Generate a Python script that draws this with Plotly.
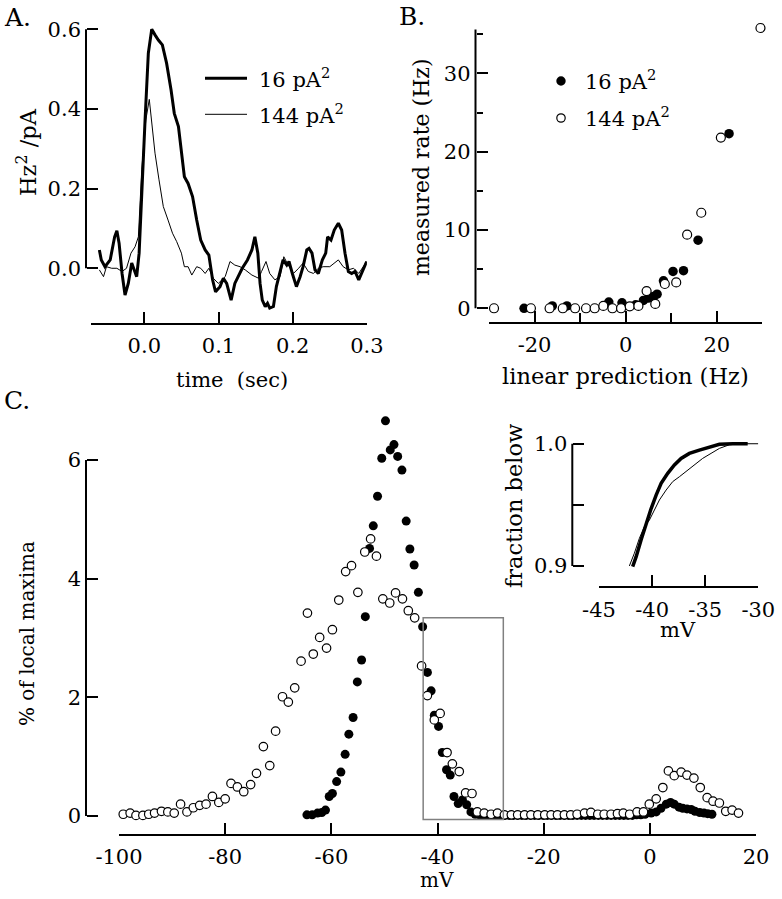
import plotly.graph_objects as go

W, H = 782, 899
FONT = "DejaVu Serif"
FS = 21

def fx(px):
    return px / W

def fy(py):
    return 1 - py / H

# ---------------- Panel A data (time in sec, Hz^2/pA) ----------------
a_t_16 = [-0.0606, -0.058, -0.053, -0.046, -0.040, -0.037, -0.034, -0.030, -0.026, -0.0216,
          -0.017, -0.0135, -0.0103, -0.007, -0.0035, 0.001, 0.0054, 0.010, 0.0144, 0.0189,
          0.0243, 0.030, 0.036, 0.0404, 0.046, 0.050, 0.054, 0.059, 0.065, 0.0706,
          0.076, 0.082, 0.087, 0.092, 0.096, 0.102, 0.1065, 0.111, 0.117, 0.122,
          0.128, 0.132, 0.139, 0.145, 0.149, 0.153, 0.156, 0.159, 0.163, 0.166,
          0.169, 0.174, 0.178, 0.183, 0.187, 0.192, 0.195, 0.1995, 0.205, 0.210,
          0.214, 0.219, 0.222, 0.226, 0.230, 0.2345, 0.240, 0.2445, 0.247, 0.2516,
          0.256, 0.2615, 0.266, 0.2705, 0.275, 0.2795, 0.284, 0.289, 0.293, 0.2975, 0.2997]
a_v_16 = [0.046, 0.021, 0.004, 0.021, 0.079, 0.094, 0.063, -0.013, -0.067, -0.038,
          0.013, -0.004, -0.021, 0.038, 0.205, 0.372, 0.540, 0.600, 0.586, 0.573,
          0.561, 0.515, 0.448, 0.389, 0.356, 0.289, 0.230, 0.213, 0.180, 0.121,
          0.071, 0.046, 0.033, -0.029, -0.059, -0.046, -0.025, -0.038, -0.080, -0.038,
          -0.013, 0.000, 0.021, 0.046, 0.079, 0.038, -0.038, -0.080, -0.096, -0.088,
          -0.100, -0.096, -0.046, -0.004, 0.021, 0.008, 0.017, -0.013, -0.046, -0.021,
          0.004, 0.046, 0.050, 0.038, -0.004, -0.013, 0.021, 0.038, 0.079, 0.071,
          0.096, 0.113, 0.096, 0.038, -0.008, -0.013, -0.008, -0.029, -0.013, 0.004, 0.017]
a_t_144 = [-0.0606, -0.055, -0.051, -0.044, -0.037, -0.030, -0.024, -0.018, -0.0125, -0.008,
           -0.0035, 0.002, 0.0067, 0.010, 0.0144, 0.0198, 0.0256, 0.032, 0.038, 0.0436,
           0.050, 0.054, 0.059, 0.064, 0.0706, 0.076, 0.082, 0.087, 0.093, 0.0997,
           0.109, 0.1155, 0.122, 0.129, 0.136, 0.145, 0.154, 0.158, 0.164, 0.169,
           0.176, 0.183, 0.188, 0.194, 0.201, 0.208, 0.214, 0.221, 0.228, 0.2345,
           0.241, 0.250, 0.257, 0.2615, 0.268, 0.275, 0.282, 0.289, 0.295, 0.2997]
a_v_144 = [-0.004, -0.021, 0.004, 0.000, 0.000, -0.008, 0.000, 0.038, 0.054, 0.079,
           0.247, 0.372, 0.424, 0.372, 0.289, 0.222, 0.155, 0.121, 0.088, 0.067,
           0.038, 0.004, 0.004, -0.017, 0.004, 0.000, -0.013, 0.000, -0.025, -0.038,
           -0.021, 0.017, 0.008, 0.004, -0.004, -0.017, -0.025, -0.008, 0.017, -0.013,
           -0.029, -0.021, 0.029, 0.008, -0.013, 0.000, 0.013, -0.008, -0.013, 0.000,
           0.004, 0.004, 0.013, 0.021, 0.004, -0.004, 0.000, -0.013, 0.004, 0.017]
a_xticks = [0.0, 0.1, 0.2, 0.3]
a_xticktext = ["0.0", "0.1", "0.2", "0.3"]
a_yticks = [0.0, 0.2, 0.4, 0.6]
a_yticktext = ["0.0", "0.2", "0.4", "0.6"]

# ---------------- Panel B data (Hz) ----------------
b_x_16 = [-22.3, -16.1, -12.9, -3.7, -0.8, 2.2, 3.9, 5.0, 6.1, 6.9, 8.3, 10.4, 12.7, 15.9, 22.7]
b_y_16 = [0.0, 0.3, 0.3, 0.8, 0.7, 0.45, 1.0, 1.3, 1.5, 1.8, 3.5, 4.7, 4.8, 8.7, 22.3]
b_x_144 = [-28.9, -20.8, -16.7, -13.8, -11.1, -8.7, -6.8, -4.9, -2.9, -1.0,
           0.9, 2.8, 4.6, 6.5, 8.6, 11.1, 13.5, 16.6, 20.9, 29.6]
b_y_144 = [0.0, 0.0, 0.0, 0.0, 0.0, 0.0, 0.0, 0.3, 0.0, 0.0,
           0.25, 0.3, 2.2, 0.55, 3.1, 3.3, 9.4, 12.2, 21.8, 35.8]
b_xticks = [-20, 0, 20]
b_xticktext = ["-20", "0", "20"]
b_xminor = [-30, -10, 10, 30]
b_yticks = [0, 10, 20, 30]
b_yticktext = ["0", "10", "20", "30"]
b_yminor = [5, 15, 25, 35]

# ---------------- Panel C data (mV, % of local maxima) ----------------
c_x_16 = [-64.6, -63.6, -62.6, -61.8, -61.1, -60.4, -59.8, -59.0, -58.2, -57.4,
          -56.7, -55.9, -55.1, -54.3, -53.6, -52.8, -52.1, -51.3, -50.5, -49.8,
          -48.9, -48.2, -47.5, -46.7, -45.9, -45.2, -44.4, -43.6, -42.8, -41.9,
          -41.2, -40.6, -39.8, -39.1, -38.3, -37.6, -36.9, -36.1, -35.3, -34.5,
          -33.7, -32.9, -32.1, -31.3, -30.5, -29.7, -28.9, -28.1, -27.3, -26.5,
          -25.7, -24.9, -24.1, -23.3, -22.5, -21.7, -20.9, -20.1, -19.3, -18.5,
          -17.7, -16.9, -16.1, -15.3, -14.5, -13.7, -12.9, -12.1, -11.3, -10.5,
          -9.7, -8.9, -8.1, -7.3, -6.5, -5.7, -4.9, -4.1, -3.3, -2.5,
          -1.7, -0.9, 0.25, 1.2, 2.1, 3.1, 3.9, 4.6, 5.5, 6.2,
          7.0, 7.8, 8.5, 9.4, 10.2, 10.9, 11.7]
c_y_16 = [0.02, 0.02, 0.05, 0.06, 0.10, 0.33, 0.38, 0.58, 0.74, 1.04,
          1.38, 1.66, 2.26, 2.63, 3.36, 4.51, 4.89, 5.39, 6.03, 6.66,
          6.17, 6.26, 6.06, 5.83, 4.97, 4.50, 4.23, 3.77, 3.19, 2.42,
          2.11, 1.70, 1.51, 1.07, 0.78, 0.69, 0.33, 0.21, 0.27, 0.19,
          0.07, 0.03, 0.02, 0.01, 0.01, 0.01, 0.01, 0.01, 0.01, 0.01,
          0.01, 0.01, 0.01, 0.01, 0.01, 0.01, 0.01, 0.01, 0.01, 0.01,
          0.01, 0.01, 0.01, 0.01, 0.01, 0.01, 0.01, 0.01, 0.01, 0.01,
          0.01, 0.01, 0.01, 0.01, 0.01, 0.01, 0.01, 0.01, 0.01, 0.02,
          0.02, 0.03, 0.05, 0.07, 0.13, 0.20, 0.23, 0.20, 0.15, 0.13,
          0.12, 0.11, 0.08, 0.06, 0.05, 0.04, 0.03]
c_x_144 = [-99.2, -97.9, -96.8, -95.5, -94.4, -93.3, -92.0, -90.8, -89.6, -88.4,
           -87.2, -86.0, -84.8, -83.6, -82.4, -81.2, -80.0, -78.9, -77.7, -76.5,
           -75.2, -74.1, -72.8, -71.6, -70.5, -69.2, -68.1, -66.9, -65.7, -64.5,
           -63.4, -62.2, -60.9, -59.8, -58.6, -57.3, -56.2, -55.0, -53.7, -52.6,
           -51.5, -50.3, -49.0, -47.9, -46.6, -45.5, -44.3, -43.0, -41.9, -40.6,
           -39.5, -38.2, -37.2, -35.9, -34.7, -33.5, -32.5, -31.2, -29.9, -28.7,
           -27.4, -26.1, -24.9, -23.6, -22.4, -21.1, -19.8, -18.6, -17.4, -16.1,
           -14.9, -13.7, -12.3, -11.1, -9.8, -8.6, -7.3, -6.1, -5.0, -3.8,
           -2.4, -1.2, -0.1, 1.2, 2.45, 3.5, 4.6, 5.9, 7.0, 8.3,
           9.5, 10.8, 11.9, 13.1, 14.3, 15.5, 16.7]
c_y_144 = [0.03, 0.05, 0.01, 0.01, 0.03, 0.05, 0.08, 0.07, 0.05, 0.20,
           0.07, 0.14, 0.18, 0.20, 0.33, 0.23, 0.29, 0.55, 0.49, 0.41,
           0.53, 0.72, 1.17, 0.85, 1.43, 2.01, 1.92, 2.16, 2.61, 3.42,
           2.73, 3.01, 2.83, 3.14, 3.64, 4.12, 4.22, 3.77, 4.45, 4.67,
           4.38, 3.66, 3.59, 3.76, 3.66, 3.46, 3.34, 2.53, 2.03, 1.62,
           1.73, 1.07, 0.88, 0.75, 0.39, 0.38, 0.07, 0.05, 0.03, 0.05,
           0.02, 0.02, 0.02, 0.02, 0.02, 0.02, 0.02, 0.02, 0.02, 0.02,
           0.02, 0.03, 0.05, 0.06, 0.03, 0.03, 0.03, 0.04, 0.05, 0.03,
           0.07, 0.07, 0.20, 0.29, 0.48, 0.76, 0.68, 0.74, 0.69, 0.64,
           0.48, 0.31, 0.25, 0.22, 0.08, 0.10, 0.05]
c_xticks = [-100, -80, -60, -40, -20, 0, 20]
c_xticktext = ["-100", "-80", "-60", "-40", "-20", "0", "20"]
c_yticks = [0, 2, 4, 6]
c_yticktext = ["0", "2", "4", "6"]
c_box_x = [-42.7, -27.6]
c_box_y = [-0.06, 3.34]

# ---------------- Inset data (mV, fraction below) ----------------
i_x_16 = [-41.83, -41.5, -41.04, -40.56, -40.09, -39.62, -39.15, -38.53, -37.9, -37.27,
          -36.49, -35.55, -34.6, -33.66, -32.4, -31.0]
i_y_16 = [0.8995, 0.9076, 0.9213, 0.935, 0.947, 0.958, 0.9676, 0.9758, 0.9826, 0.988,
          0.9921, 0.9948, 0.9975, 0.9995, 1.0, 1.0]
i_x_144 = [-42.14, -41.67, -41.2, -40.73, -40.25, -39.78, -39.31, -38.68, -38.06, -37.43,
           -36.8, -36.02, -35.24, -34.45, -33.66, -32.72, -31.47, -30.0]
i_y_144 = [0.900, 0.9104, 0.9226, 0.9321, 0.9376, 0.9458, 0.954, 0.9621, 0.969, 0.973,
           0.9771, 0.9826, 0.988, 0.9921, 0.9962, 0.9992, 1.0, 1.0]
i_xticks = [-45, -40, -35, -30]
i_xticktext = ["-45", "-40", "-35", "-30"]
i_yticks = [0.9, 1.0]
i_yticktext = ["0.9", "1.0"]
i_yminor = [0.95]

series_names = ["16 pA<sup>2</sup>", "144 pA<sup>2</sup>"]

# layout constant: top end of panel B's y-axis line
B_YLINE_TOP = 35.6

fig = go.Figure()

# Panel A
fig.add_trace(go.Scatter(x=a_t_16, y=a_v_16, mode="lines", name=series_names[0],
                         line=dict(color="black", width=3), xaxis="x", yaxis="y"))
fig.add_trace(go.Scatter(x=a_t_144, y=a_v_144, mode="lines", name=series_names[1],
                         line=dict(color="black", width=1), xaxis="x", yaxis="y"))
# Panel B
fig.add_trace(go.Scatter(x=b_x_16, y=b_y_16, mode="markers", name=series_names[0], cliponaxis=False,
                         marker=dict(color="black", size=9.5, line=dict(width=0)), xaxis="x2", yaxis="y2"))
fig.add_trace(go.Scatter(x=b_x_144, y=b_y_144, mode="markers", name=series_names[1], cliponaxis=False,
                         marker=dict(color="white", size=9, line=dict(color="black", width=1.2)),
                         xaxis="x2", yaxis="y2"))
# Panel C
fig.add_trace(go.Scatter(x=c_x_16, y=c_y_16, mode="markers", name=series_names[0], cliponaxis=False,
                         marker=dict(color="black", size=9, line=dict(width=0)), xaxis="x3", yaxis="y3"))
fig.add_trace(go.Scatter(x=c_x_144, y=c_y_144, mode="markers", name=series_names[1], cliponaxis=False,
                         marker=dict(color="white", size=8.5, line=dict(color="black", width=1.2)),
                         xaxis="x3", yaxis="y3"))
# Inset
fig.add_trace(go.Scatter(x=i_x_16, y=i_y_16, mode="lines", name=series_names[0],
                         line=dict(color="black", width=3.5), xaxis="x4", yaxis="y4"))
fig.add_trace(go.Scatter(x=i_x_144, y=i_y_144, mode="lines", name=series_names[1],
                         line=dict(color="black", width=1), xaxis="x4", yaxis="y4"))

tickfont = dict(family=FONT, size=FS, color="black")

def minor_ticks(vals, length):
    return dict(tickmode="array", tickvals=vals, ticks="inside", ticklen=length,
                tickwidth=2, tickcolor="black", showgrid=False)

def xax(domain, rng, pos, tickvals, ticktext, minor=None, minorlen=6):
    d = dict(domain=domain, range=rng, anchor="free", position=pos, showline=True,
             linecolor="black", linewidth=2, ticks="inside", ticklen=11, tickwidth=2,
             tickcolor="black", tickmode="array", tickvals=tickvals, ticktext=ticktext,
             tickfont=tickfont, showgrid=False, zeroline=False, fixedrange=True,
             automargin=False, ticklabelstandoff=3)
    if minor is not None:
        d["minor"] = minor_ticks(minor, minorlen)
    return d

def yax(domain, rng, pos, tickvals, ticktext, minor=None, minorlen=6):
    d = dict(domain=domain, range=rng, anchor="free", position=pos, showline=False,
             ticks="inside", ticklen=11, tickwidth=2,
             tickcolor="black", tickmode="array", tickvals=tickvals, ticktext=ticktext,
             tickfont=tickfont, showgrid=False, zeroline=False, fixedrange=True,
             automargin=False, ticklabelstandoff=5)
    if minor is not None:
        d["minor"] = minor_ticks(minor, minorlen)
    return d

fig.update_layout(
    template="none",
    width=W, height=H, margin=dict(l=0, r=0, t=0, b=0, pad=0), autosize=False,
    paper_bgcolor="white", plot_bgcolor="rgba(0,0,0,0)", showlegend=False,
    font=dict(family=FONT, size=FS, color="black"),
    xaxis=xax([fx(90.9), fx(366.9)], [-0.072, 0.3], fy(324), a_xticks, a_xticktext),
    yaxis=yax([fy(312.1), fy(25.3)], [-0.11, 0.61], fx(86), a_yticks, a_yticktext),
    xaxis2=xax([fx(489), fx(762.3)], [-30, 30], fy(322.5), b_xticks, b_xticktext,
               minor=b_xminor, minorlen=9),
    yaxis2=yax([fy(316.1), fy(18.6)], [-1, 37], fx(475.5), b_yticks, b_yticktext,
               minor=b_yminor, minorlen=6),
    xaxis3=xax([fx(119), fx(756)], [-100, 20], fy(835), c_xticks, c_xticktext),
    yaxis3=yax([fy(827.9), fy(406.6)], [-0.2, 6.9], fx(86), c_yticks, c_yticktext),
    xaxis4=xax([fx(599), fx(758.3)], [-45, -30], fy(587.3), i_xticks, i_xticktext),
    yaxis4=yax([fy(568.4), fy(441.3)], [0.898, 1.002], fx(572.3), i_yticks, i_yticktext,
               minor=i_yminor, minorlen=11),
)

shapes = []
# y-axis lines spanning the tick range
shapes.append(dict(type="line", xref="paper", yref="y", x0=fx(86), x1=fx(86),
                   y0=a_yticks[0], y1=a_yticks[-1], line=dict(color="black", width=2)))
shapes.append(dict(type="line", xref="paper", yref="y2", x0=fx(475.5), x1=fx(475.5),
                   y0=b_yticks[0], y1=B_YLINE_TOP, line=dict(color="black", width=2)))
shapes.append(dict(type="line", xref="paper", yref="y3", x0=fx(86), x1=fx(86),
                   y0=c_yticks[0], y1=c_yticks[-1], line=dict(color="black", width=2)))
shapes.append(dict(type="line", xref="paper", yref="y4", x0=fx(572.3), x1=fx(572.3),
                   y0=i_yticks[0], y1=i_yticks[-1], line=dict(color="black", width=2)))
# box in panel C marking the inset region
shapes.append(dict(type="rect", xref="x3", yref="y3", x0=c_box_x[0], x1=c_box_x[1],
                   y0=c_box_y[0], y1=c_box_y[1], line=dict(color="#808080", width=1.5),
                   fillcolor="rgba(0,0,0,0)"))
# legend A (line samples)
shapes.append(dict(type="line", xref="paper", yref="paper", x0=fx(205), x1=fx(247),
                   y0=fy(78.3), y1=fy(78.3), line=dict(color="black", width=3)))
shapes.append(dict(type="line", xref="paper", yref="paper", x0=fx(205), x1=fx(247),
                   y0=fy(114.3), y1=fy(114.3), line=dict(color="black", width=1)))
# legend B (marker samples)
shapes.append(dict(type="circle", xref="paper", yref="paper", x0=fx(561 - 4.7), x1=fx(561 + 4.7),
                   y0=fy(81 + 4.7), y1=fy(81 - 4.7), fillcolor="black", line=dict(color="black", width=0)))
shapes.append(dict(type="circle", xref="paper", yref="paper", x0=fx(561 - 4.2), x1=fx(561 + 4.2),
                   y0=fy(118 + 4.2), y1=fy(118 - 4.2), fillcolor="white", line=dict(color="black", width=1.2)))
fig.update_layout(shapes=shapes)

def ann(text, px, py, size=FS, angle=0, xanchor="center", yanchor="middle"):
    return dict(text=text, x=fx(px), y=fy(py), xref="paper", yref="paper", showarrow=False,
                textangle=angle, xanchor=xanchor, yanchor=yanchor,
                font=dict(family=FONT, size=size, color="black"))

annotations = [
    ann("A.", 17, 18, size=25),
    ann("B.", 412, 16, size=25),
    ann("C.", 17, 400, size=25),
    ann("Hz<sup>2</sup> /pA", 27, 152, size=22.5, angle=-90),
    ann("time\u00a0 (sec)", 232, 380),
    ann("measured rate (Hz)", 421, 167, size=22, angle=-90),
    ann("linear prediction (Hz)", 625, 376, size=22.5),
    ann("% of local maxima", 27, 634, size=20, angle=-90),
    ann("mV", 437, 880, size=20),
    ann("fraction below", 514, 506, size=22.5, angle=-90),
    ann("mV", 678, 630),
    ann(series_names[0], 256.7, 78, xanchor="left"),
    ann(series_names[1], 256.7, 114, xanchor="left"),
    ann(series_names[0], 583, 80, xanchor="left"),
    ann(series_names[1], 583, 117, xanchor="left"),
]
fig.update_layout(annotations=annotations)

fig.write_html("out.html",
               config={"displayModeBar": False, "staticPlot": True},
               post_script="document.body.style.margin='0px';document.body.style.overflow='hidden';")
